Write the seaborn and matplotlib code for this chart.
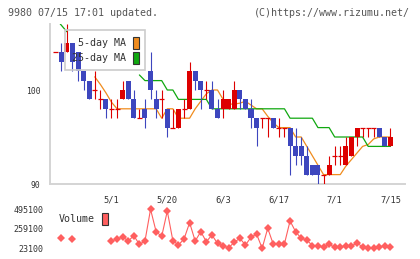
import numpy as np
import pandas as pd
import matplotlib
matplotlib.use('Agg')
import matplotlib.pyplot as plt
from matplotlib.patches import Patch
import seaborn as sns

# Estilo
sns.set_style('white')
plt.rcParams['font.family'] = ['DejaVu Sans Mono', 'DejaVu Sans']

# Datos (un valor por sesión)
opens = [104, 104, 104, 105, 104, 102, 101, 100, 99, 99, 98, 98, 99, 101, 99, 97, 98, 102, 99, 99,
         98, 96, 96, 98, 98, 102, 101, 100, 100, 98, 98, 98, 98, 100, 99, 98, 97, 97, 97, 97,
         96, 96, 96, 94, 94, 93, 92, 92, 91, 91, 93, 93, 92, 93, 95, 96, 96, 96, 96, 95, 94]
highs = [104, 105, 107, 105, 104, 102, 101, 102, 100, 99, 99, 99, 101, 101, 100, 98, 99, 104, 100, 100,
         98, 98, 98, 99, 103, 102, 101, 101, 101, 99, 100, 99, 101, 100, 99, 99, 97, 97, 97, 97,
         97, 96, 96, 96, 95, 94, 92, 92, 91, 93, 94, 94, 95, 95, 96, 96, 96, 96, 96, 95, 96]
lows = [104, 102, 104, 102, 101, 100, 99, 99, 98, 97, 97, 97, 99, 99, 97, 97, 96, 99, 97, 97,
        95, 96, 96, 97, 98, 100, 98, 99, 98, 97, 97, 98, 98, 98, 98, 96, 94, 96, 95, 96,
        95, 95, 91, 92, 92, 91, 91, 90, 90, 91, 92, 92, 92, 93, 94, 95, 95, 95, 95, 94, 94]
closes = [104, 103, 105, 103, 102, 101, 99, 100, 99, 98, 98, 98, 100, 99, 97, 97, 97, 100, 98, 99,
          96, 96, 98, 98, 102, 101, 100, 100, 98, 97, 99, 99, 100, 99, 98, 97, 96, 97, 97, 96,
          96, 96, 94, 93, 93, 91, 91, 91, 91, 92, 93, 93, 94, 95, 96, 96, 96, 96, 95, 94, 95]

nan = np.nan
ma5 = [nan, nan, nan, nan, nan, nan, nan, 101.4, 100.6, 99.7, 98.7, 98.0, 98, 98, 98, 98, 98, 98, 98, 97,
       98, 98, 97, 97, 97, 98, 98.8, 99.6, 100, 100, 99, 98.5, 98.5, 98.6, 98.8, 98.4, 98, 98, 97.2, 96.5,
       96, 96, 96, 95, 95, 94, 93, 92, 91, 91, 91, 91, 91.9, 92.6, 93.3, 94, 94.2, 94.8, 95, 95, 95]
ma25 = [107.6, 106.9, 106.2, nan, nan, nan, nan, nan, nan, nan, nan, nan, nan, nan, nan, 101.6, 101, 101, 101, 101,
        100, 100, 99, 99, 99, 99, 99, 99, 98, 98, 98, 98, 98, 98, 98, 98, 98, 98, 98, 98,
        98, 98, 97, 97, 97, 97, 97, 96, 96, 96, 95, 95, 95, 95, 95, 95, 94, 94, 94, 94, 94]

volume = [nan, 150000, nan, 132000, nan, nan, nan, nan, nan, nan,
          115000, 132000, 163000, 111000, 176000, 71000, 111000, 495100, 224000, 168000,
          474000, 115000, 63000, 136000, 333000, 111000, 224000, 103000, 184000, 83000,
          50000, 30000, 96000, 144000, 63000, 156000, 196000, 23100, 265000, 71000,
          79000, 79000, 354000, 224000, 144000, 124000, 55000, 55000, 35000, 71000,
          35000, 35000, 55000, 55000, 83000, 43000, 28000, 23100, 35000, 55000, 43000]

date_labels = ['5/1', '5/20', '6/3', '6/17', '7/1', '7/15']
date_pos = [10, 20, 30, 40, 50, 60]
vol_ticks = [23100, 259100, 495100]

opens, highs, lows, closes = map(np.array, (opens, highs, lows, closes))
k = np.arange(len(closes))

RED, BLUE = '#dd0000', '#3d46be'
ORANGE, GREEN = '#f08c1e', '#10a810'
VOLC = '#ff5f5f'
GRID = '#d4d4d4'
TXT = '#333333'

fig = plt.figure(figsize=(4.2, 2.59), dpi=100)
ax = fig.add_axes([50/420, 75/259, 355/420, 159.8/259])
vax = fig.add_axes([50/420, 7/259, 355/420, 47/259])

# Medias móviles (detrás de las velas)
ax.plot(k, ma5, color=ORANGE, lw=0.9, zorder=2)
ax.plot(k, ma25, color=GREEN, lw=0.9, zorder=2)

# Velas
up = closes >= opens
colors = np.where(up, RED, BLUE)
ax.vlines(k, lows, highs, colors=colors, lw=0.8, zorder=3)
ax.bar(k, np.abs(closes - opens), bottom=np.minimum(opens, closes), width=0.9,
       color=colors, lw=0, zorder=4)
doji = opens == closes
ax.hlines(opens[doji], k[doji] - 0.45, k[doji] + 0.45, colors=RED, lw=0.9, zorder=4)

xlim = (-1.02, 62.6)
ax.set_xlim(*xlim)
ax.set_ylim(90, 107)
for s in ['top', 'right']:
    ax.spines[s].set_visible(False)
for s in ['left', 'bottom']:
    ax.spines[s].set_color(GRID)
    ax.spines[s].set_linewidth(1.4)
ax.set_yticks([90, 100])
ax.tick_params(axis='y', direction='inout', length=6, width=1.2, color=GRID,
               labelsize=5.8, labelcolor=TXT, pad=4)
ax.set_xticks(np.linspace(xlim[0], xlim[1], 12))
ax.set_xticklabels([])
ax.set_xticks(date_pos, date_labels, minor=True)
ax.tick_params(axis='x', which='major', direction='out', length=5, width=1.2, color=GRID)
ax.tick_params(axis='x', which='minor', length=0, pad=8, labelsize=6.3, labelcolor=TXT)

handles = [Patch(facecolor=ORANGE, edgecolor=TXT, lw=0.8),
           Patch(facecolor=GREEN, edgecolor=TXT, lw=0.8)]
leg = ax.legend(handles, ['5-day MA', '25-day MA'], loc='upper left',
                bbox_to_anchor=(15/355, 154/159.8), borderaxespad=0, markerfirst=False,
                handlelength=0.6, handleheight=1.5, handletextpad=0.7, labelspacing=0.3,
                borderpad=0.65, fontsize=7.2, frameon=True, fancybox=False,
                edgecolor='#cccccc', facecolor='none', framealpha=1, labelcolor=TXT)
leg.get_frame().set_linewidth(1.2)

# Volumen
vdf = pd.DataFrame({'k': k, 'vol': volume})
vdf['seg'] = vdf['vol'].isna().cumsum()
vdf = vdf.dropna()
sns.lineplot(data=vdf, x='k', y='vol', units='seg', estimator=None, color=VOLC, lw=0.8,
             marker='D', markersize=3.7, markeredgewidth=0, ax=vax, legend=False)
vax.set_xlim(*xlim)
vax.set_ylim(-21700, 547000)
vax.set_yticks(vol_ticks, [str(v) for v in vol_ticks])
vax.set_xticks([])
vax.set_xlabel('')
vax.set_ylabel('')
for s in vax.spines.values():
    s.set_visible(False)
vax.tick_params(axis='y', length=0, labelsize=6, labelcolor=TXT, pad=4.5)
vax.legend([Patch(facecolor=VOLC, edgecolor=TXT, lw=0.8)], ['Volume'], loc='upper left',
           bbox_to_anchor=(9/355, 39/47), borderaxespad=0, borderpad=0, markerfirst=False,
           handlelength=0.6, handleheight=1.5, handletextpad=0.7, fontsize=7.2,
           frameon=False, labelcolor=TXT)

# Textos de cabecera
fig.text(8/420, 1 - 12.5/259, '9980 07/15 17:01 updated.', fontsize=7.2, color='#555555',
         ha='left', va='center')
fig.text(410/420, 1 - 12.5/259, '(C)https://www.rizumu.net/', fontsize=7.2, color='#555555',
         ha='right', va='center')

fig.savefig('out.png', dpi=100)
plt.close(fig)
